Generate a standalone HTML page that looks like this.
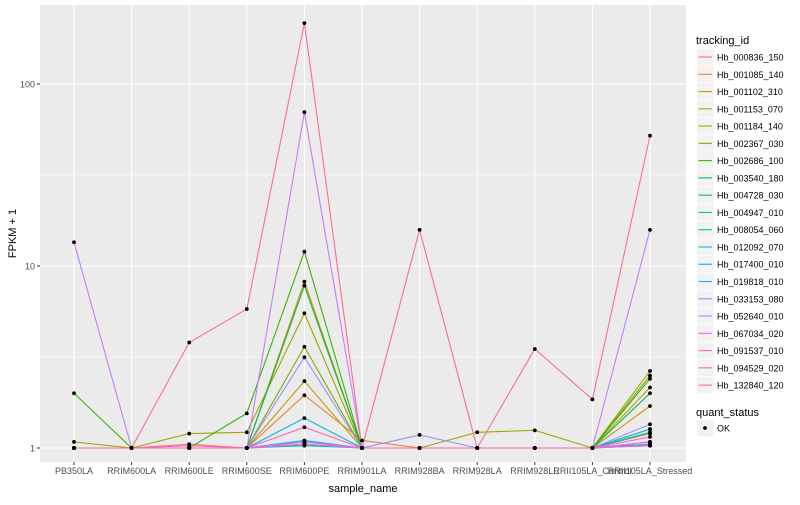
<!DOCTYPE html>
<html><head><meta charset="utf-8">
<style>
body{margin:0;background:#fff;font-family:"Liberation Sans",sans-serif;}
svg text{font-family:"Liberation Sans",sans-serif;}
</style></head>
<body>
<svg id="chart" width="800" height="500"></svg>
<script>
const categories=["PB350LA","RRIM600LA","RRIM600LE","RRIM600SE","RRIM600PE","RRIM901LA","RRIM928BA","RRIM928LA","RRIM928LE","RRII105LA_Control","RRII105LA_Stressed"];
const seriesNames=["Hb_000836_150","Hb_001085_140","Hb_001102_310","Hb_001153_070","Hb_001184_140","Hb_002367_030","Hb_002686_100","Hb_003540_180","Hb_004728_030","Hb_004947_010","Hb_008054_060","Hb_012092_070","Hb_017400_010","Hb_019818_010","Hb_033153_080","Hb_052640_010","Hb_067034_020","Hb_091537_010","Hb_094529_020","Hb_132840_120"];
const s0=[1,1,1,1,1.05,1,1,1,1,1,1.05];
const s1=[1,1,1.05,1,1.95,1.1,1,1,1,1,1.2];
const s2=[1,1,1,1,8.2,1,1,1,1,1,1.7];
const s3=[1,1,1,1,2.33,1,1,1,1,1,2.15];
const s4=[1.08,1,1.2,1.22,5.5,1,1,1.22,1.25,1,2.65];
const s5=[1,1,1,1,3.6,1,1,1,1,1,2.5];
const s6=[2,1,1,1.55,12,1,1,1,1,1,2.4];
const s7=[1,1,1,1,7.8,1,1,1,1,1,2.0];
const s8=[1,1,1,1,1.03,1,1,1,1,1,1.03];
const s9=[1,1,1,1,1.05,1,1,1,1,1,1.22];
const s10=[1,1,1,1,1.08,1,1,1,1,1,1.27];
const s11=[1,1,1,1,1.46,1,1,1,1,1,1.27];
const s12=[1,1,1,1,1.1,1,1,1,1,1,1.08];
const s13=[1,1,1,1,1.05,1,1,1,1,1,1.05];
const s14=[1,1,1,1,3.15,1,1.18,1,1,1,1.35];
const s15=[13.5,1,1,1,70,1,1,1,1,1,15.8];
const s16=[1,1,1,1,1.05,1,1,1,1,1,1.15];
const s17=[1,1,1.03,1,1.08,1,1,1,1,1,1.03];
const s18=[1,1,1,1,1.3,1,1,1,1,1,1.08];
const s19=[1,1,3.8,5.8,216,1,15.8,1,3.5,1.85,52];
const seriesValues=[s0,s1,s2,s3,s4,s5,s6,s7,s8,s9,s10,s11,s12,s13,s14,s15,s16,s17,s18,s19];
const yTicks=[1,10,100];
const yTickLabels=["1","10","100"];
const colors=["#F8766D","#EA8331","#D89000","#C09B00","#A3A500","#7CAE00","#39B600","#00BB4E","#00BF7D","#00C1A3","#00BFC4","#00BAE0","#00B0F6","#35A2FF","#9590FF","#C77CFF","#E76BF3","#FA62DB","#FF62BC","#FF6C91"];

const NS="http://www.w3.org/2000/svg";
const svg=document.getElementById('chart');
function mk(tag,attrs,parent){const e=document.createElementNS(NS,tag);for(const k in attrs)e.setAttribute(k,attrs[k]);(parent||svg).appendChild(e);return e;}
const P={l:40,r:686,t:5,b:462};
function xScale(i){return 74+i*57.6;}
function yScale(v){return 448-Math.log10(v)*182;}

const panel=mk('rect',{x:P.l,y:P.t,width:P.r-P.l,height:P.b-P.t,fill:'#ebebeb'});


[0.5,1.5,2.5].forEach(d=>{const y=448-d*182;if(y>P.t)mk('line',{x1:P.l,x2:P.r,y1:y,y2:y,stroke:'#fff','stroke-width':0.5});});
yTicks.forEach((v,i)=>{const y=yScale(v);
  const g=mk('line',{x1:P.l,x2:P.r,y1:y,y2:y,stroke:'#fff','stroke-width':1.1});
  
  
  mk('line',{x1:P.l-3,x2:P.l,y1:y,y2:y,stroke:'#333'});
  const t=mk('text',{x:P.l-5,y:y+3.5,'text-anchor':'end','font-size':9,fill:'#4d4d4d'});t.textContent=yTickLabels[i];
  
  
});
categories.forEach((c,i)=>{const x=xScale(i);
  const g=mk('line',{x1:x,x2:x,y1:P.t,y2:P.b,stroke:'#fff','stroke-width':1.1});
  
  
  mk('line',{x1:x,x2:x,y1:P.b,y2:P.b+3,stroke:'#333'});
  const t=mk('text',{x:x,y:P.b+12,'text-anchor':'middle','font-size':9,fill:'#4d4d4d'});t.textContent=c;
  
  
});
seriesValues.forEach((vals,si)=>{
  const pts=vals.map((v,i)=>xScale(i)+','+yScale(v)).join(' ');
  const l=mk('polyline',{points:pts,fill:'none',stroke:colors[si],'stroke-width':1.1});
  
  
});
seriesValues.forEach((vals,si)=>{vals.forEach((v,i)=>{
  const c=mk('circle',{cx:xScale(i),cy:yScale(v),r:1.9,fill:'#000'});
  
  
});});
const xt=mk('text',{x:(P.l+P.r)/2,y:492,'text-anchor':'middle','font-size':11,fill:'#000'});xt.textContent='sample_name';


const yt=mk('text',{x:0,y:0,'text-anchor':'middle','font-size':11,fill:'#000',transform:`translate(16,${(P.t+P.b)/2}) rotate(-90)`});yt.textContent='FPKM + 1';


const lt=mk('text',{x:696,y:44,'font-size':11,fill:'#000'});lt.textContent='tracking_id';


seriesNames.forEach((n,i)=>{const y=57+i*17.27;
  const g=mk('g',{});
  
  
  mk('rect',{x:697,y:y-8.3,width:16.5,height:16.5,fill:'#f2f2f2'},g);
  mk('line',{x1:698.5,x2:712,y1:y,y2:y,stroke:colors[i],'stroke-width':1.1},g);
  const t=mk('text',{x:717,y:y+3.5,'font-size':9,fill:'#000'},g);t.textContent=n;
});
const qt=mk('text',{x:696,y:416,'font-size':11,fill:'#000'});qt.textContent='quant_status';


const og=mk('g',{});


mk('rect',{x:697,y:420,width:16.5,height:16.5,fill:'#f2f2f2'},og);
mk('circle',{cx:705,cy:428,r:1.9,fill:'#000'},og);
const ot=mk('text',{x:717,y:431.5,'font-size':9,fill:'#000'},og);ot.textContent='OK';
</script>
</body></html>
